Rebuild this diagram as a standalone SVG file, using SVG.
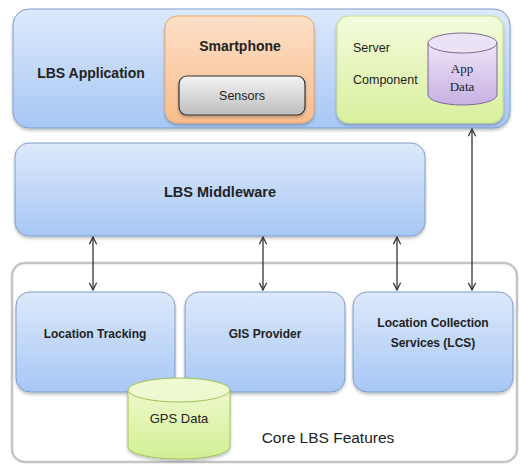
<svg xmlns="http://www.w3.org/2000/svg" width="520" height="466" viewBox="0 0 520 466">
<defs>
<linearGradient id="gBlue" x1="0" y1="0" x2="0" y2="1"><stop offset="0" stop-color="#dde9fb"/><stop offset="1" stop-color="#a7c7f5"/></linearGradient>
<linearGradient id="gOrange" x1="0" y1="0" x2="0" y2="1"><stop offset="0" stop-color="#fde0c8"/><stop offset="1" stop-color="#f9bd8d"/></linearGradient>
<linearGradient id="gGray" x1="0" y1="0" x2="0" y2="1"><stop offset="0" stop-color="#f4f4f4"/><stop offset="1" stop-color="#bdbdbd"/></linearGradient>
<linearGradient id="gGreen" x1="0" y1="0" x2="0" y2="1"><stop offset="0" stop-color="#f4fbdc"/><stop offset="1" stop-color="#d9f09e"/></linearGradient>
<linearGradient id="gPurple" x1="0" y1="0" x2="0" y2="1"><stop offset="0" stop-color="#eee4f7"/><stop offset="1" stop-color="#c7b1e3"/></linearGradient>
<linearGradient id="gGps" x1="0" y1="0" x2="0" y2="1"><stop offset="0" stop-color="#eef9cc"/><stop offset="1" stop-color="#d2ef93"/></linearGradient>
<filter id="sh" x="-10%" y="-10%" width="120%" height="130%"><feDropShadow dx="0" dy="2" stdDeviation="1.5" flood-color="#000" flood-opacity="0.25"/></filter>
<marker id="ah" viewBox="0 0 10 10" refX="9" refY="5" markerWidth="9" markerHeight="9" orient="auto-start-reverse" markerUnits="userSpaceOnUse"><path d="M1,1 L9,5 L1,9" fill="none" stroke="#333" stroke-width="1.4"/></marker>
</defs>
<style>
.blue{fill:url(#gBlue);stroke:#7f9cc8;stroke-width:1}
.sans{font-family:"Liberation Sans","Open Sans",sans-serif;fill:#222}
.b{font-weight:bold}
.serif{font-family:"Liberation Serif",serif;fill:#222}
.conn line{stroke:#333;stroke-width:1.3;marker-start:url(#ah);marker-end:url(#ah)}
</style>
<rect width="520" height="466" fill="#fff"/>

<g id="core">
<rect x="12" y="263" width="505" height="199" rx="13" fill="#fff" stroke="#c4c4c4" stroke-width="2.5"/>
<text x="328" y="443" class="sans" font-size="15.5" text-anchor="middle">Core LBS Features</text>
</g>

<g id="lbs-application">
<rect x="13" y="9" width="497" height="119" rx="16" class="blue" filter="url(#sh)"/>
<text x="91" y="78" class="sans b" font-size="14" text-anchor="middle">LBS Application</text>
</g>

<g id="smartphone">
<rect x="165" y="16" width="149" height="107" rx="12" fill="url(#gOrange)" stroke="#eda56b" stroke-width="1" filter="url(#sh)"/>
<text x="240" y="51" class="sans b" font-size="14" text-anchor="middle">Smartphone</text>
</g>

<g id="sensors">
<rect x="179" y="76" width="126" height="39" rx="8" fill="url(#gGray)" stroke="#333" stroke-width="1.2" filter="url(#sh)"/>
<text x="242" y="100" class="sans" font-size="12.5" text-anchor="middle">Sensors</text>
</g>

<g id="server-component">
<rect x="337" y="16" width="166" height="107" rx="12" fill="url(#gGreen)" stroke="#c7e28f" stroke-width="1.2" filter="url(#sh)"/>
<text x="353" y="52" class="sans" font-size="12.5">Server</text>
<text x="353" y="84" class="sans" font-size="12.5">Component</text>
</g>

<g id="app-data">
<path d="M428,43 L428,95 A34.5,10 0 0 0 497,95 L497,43" fill="url(#gPurple)" stroke="#7b6a95" stroke-width="1"/>
<ellipse cx="462.5" cy="43" rx="34.5" ry="10" fill="#ece2f6" stroke="#7b6a95" stroke-width="1"/>
<text x="462" y="73" class="serif" font-size="13" text-anchor="middle">App</text>
<text x="462" y="91" class="serif" font-size="13" text-anchor="middle">Data</text>
</g>

<g id="lbs-middleware">
<rect x="15" y="143" width="410" height="93" rx="14" class="blue" filter="url(#sh)"/>
<text x="220" y="197" class="sans b" font-size="14.5" text-anchor="middle">LBS Middleware</text>
</g>

<g id="location-tracking">
<rect x="16" y="292" width="159" height="100" rx="14" class="blue" filter="url(#sh)"/>
<text x="95" y="338" class="sans b" font-size="12" text-anchor="middle">Location Tracking</text>
</g>

<g id="gis-provider">
<rect x="185" y="292" width="160" height="100" rx="14" class="blue" filter="url(#sh)"/>
<text x="265" y="338" class="sans b" font-size="12" text-anchor="middle">GIS Provider</text>
</g>

<g id="lcs">
<rect x="353" y="292" width="160" height="100" rx="14" class="blue" filter="url(#sh)"/>
<text x="433" y="327" class="sans b" font-size="12" text-anchor="middle">Location Collection</text>
<text x="433" y="347" class="sans b" font-size="12" text-anchor="middle">Services (LCS)</text>
</g>

<g id="gps-data">
<path d="M128,390 L128,447 A51,12 0 0 0 230,447 L230,390" fill="url(#gGps)" stroke="#9fc25a" stroke-width="1" filter="url(#sh)"/>
<ellipse cx="179" cy="390" rx="51" ry="12" fill="#eef9cf" stroke="#9fc25a" stroke-width="1"/>
<text x="179" y="423" class="sans" font-size="13" text-anchor="middle">GPS Data</text>
</g>

<g id="connectors" class="conn">
<line x1="93" y1="237" x2="93" y2="290"/>
<line x1="263" y1="237" x2="263" y2="290"/>
<line x1="397" y1="237" x2="397" y2="290"/>
<line x1="472" y1="129" x2="472" y2="290"/>
</g>
</svg>
